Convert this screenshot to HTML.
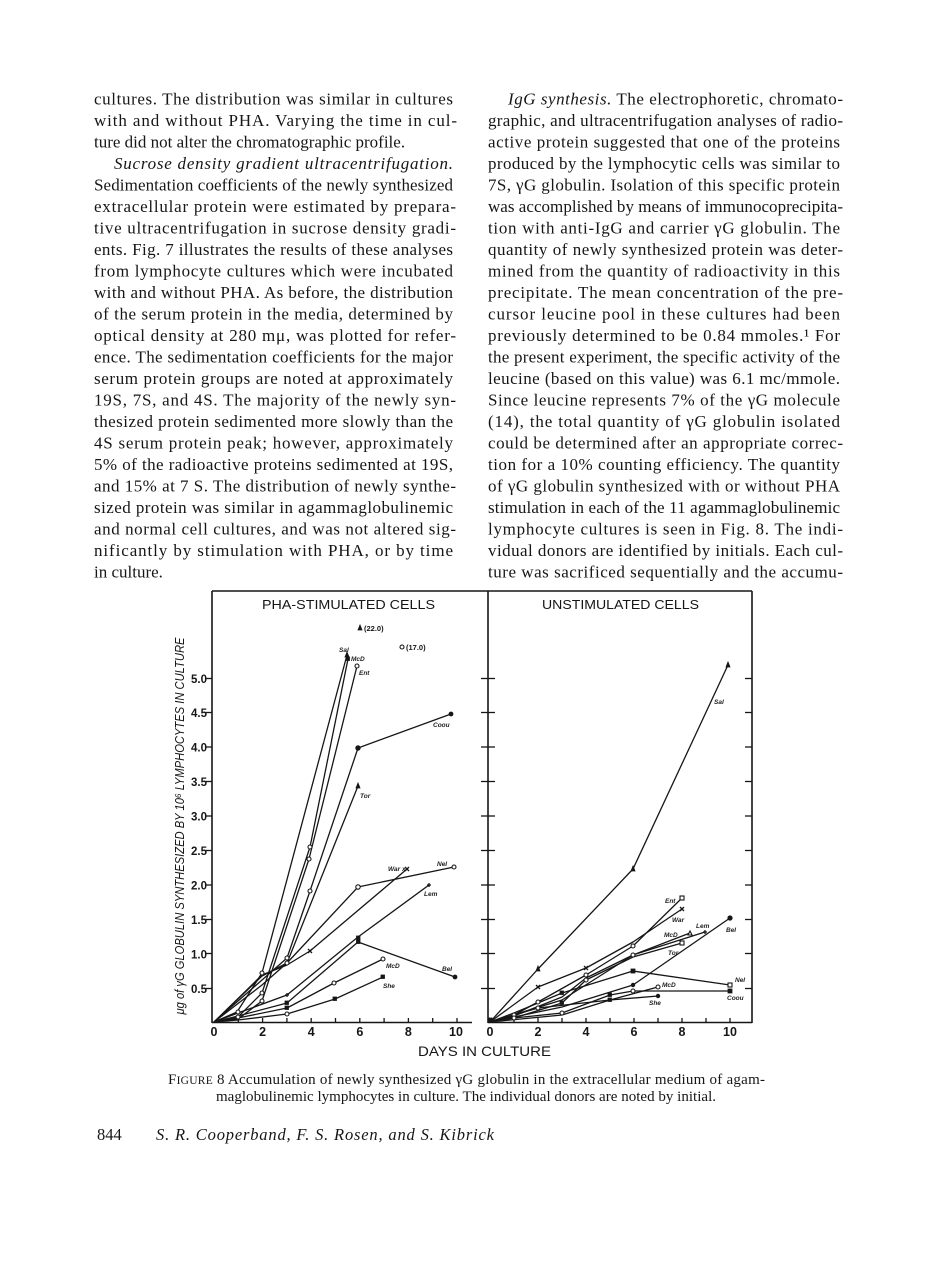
<!DOCTYPE html>
<html>
<head>
<meta charset="utf-8">
<style>
  html,body{margin:0;padding:0;background:#fff;}
  body{width:936px;height:1261px;position:relative;overflow:hidden;}
  svg{position:absolute;left:0;top:0;}
  .body{font-family:"Liberation Serif",serif;font-size:17px;fill:#161616;}
  .cap{font-family:"Liberation Serif",serif;font-size:15px;fill:#161616;}
  .foot{font-family:"Liberation Serif",serif;font-size:16.5px;fill:#161616;}
  .it{font-style:italic;}
  .sans{font-family:"Liberation Sans",sans-serif;fill:#161616;}
  .lab{font-family:"Liberation Sans",sans-serif;font-style:italic;font-weight:bold;font-size:6.5px;fill:#222;}
  .ln{fill:none;stroke:#161616;stroke-width:1.3;stroke-linejoin:round;}
  .fr{stroke:#161616;stroke-width:1.6;fill:none;}
  .tk{stroke:#161616;stroke-width:1.3;}
  .mo{fill:#fff;stroke:#161616;stroke-width:1.1;}
  .mf{fill:#161616;stroke:#161616;stroke-width:0.8;}
</style>
</head>
<body>
<svg width="936" height="1261" viewBox="0 0 936 1261" xmlns="http://www.w3.org/2000/svg">

<!-- LEFT COLUMN TEXT -->
<g class="body">
<text x="94" y="104.5" textLength="359">cultures. The distribution was similar in cultures</text>
<text x="94" y="126" textLength="363">with and without PHA. Varying the time in cul-</text>
<text x="94" y="147.5">ture did not alter the chromatographic profile.</text>
<text x="114" y="169" textLength="339" class="it">Sucrose density gradient ultracentrifugation.</text>
<text x="94" y="190.5" textLength="359">Sedimentation coefficients of the newly synthesized</text>
<text x="94" y="212" textLength="362">extracellular protein were estimated by prepara-</text>
<text x="94" y="233.5" textLength="362">tive ultracentrifugation in sucrose density gradi-</text>
<text x="94" y="255" textLength="359">ents. Fig. 7 illustrates the results of these analyses</text>
<text x="94" y="276.5" textLength="359">from lymphocyte cultures which were incubated</text>
<text x="94" y="298" textLength="359">with and without PHA. As before, the distribution</text>
<text x="94" y="319.5" textLength="359">of the serum protein in the media, determined by</text>
<text x="94" y="341" textLength="362">optical density at 280 mμ, was plotted for refer-</text>
<text x="94" y="362.5" textLength="359">ence. The sedimentation coefficients for the major</text>
<text x="94" y="384" textLength="359">serum protein groups are noted at approximately</text>
<text x="94" y="405.5" textLength="362">19S, 7S, and 4S. The majority of the newly syn-</text>
<text x="94" y="427" textLength="359">thesized protein sedimented more slowly than the</text>
<text x="94" y="448.5" textLength="359">4S serum protein peak; however, approximately</text>
<text x="94" y="470" textLength="359">5% of the radioactive proteins sedimented at 19S,</text>
<text x="94" y="491.5" textLength="362">and 15% at 7 S. The distribution of newly synthe-</text>
<text x="94" y="513" textLength="359">sized protein was similar in agammaglobulinemic</text>
<text x="94" y="534.5" textLength="362">and normal cell cultures, and was not altered sig-</text>
<text x="94" y="556" textLength="359">nificantly by stimulation with PHA, or by time</text>
<text x="94" y="577.5">in culture.</text>
</g>

<!-- RIGHT COLUMN TEXT -->
<g class="body">
<text x="508" y="104.5" textLength="335"><tspan class="it">IgG synthesis.</tspan>  The electrophoretic, chromato-</text>
<text x="488" y="126" textLength="355">graphic, and ultracentrifugation analyses of radio-</text>
<text x="488" y="147.5" textLength="352">active protein suggested that one of the proteins</text>
<text x="488" y="169" textLength="352">produced by the lymphocytic cells was similar to</text>
<text x="488" y="190.5" textLength="352">7S, γG globulin. Isolation of this specific protein</text>
<text x="488" y="212" textLength="355">was accomplished by means of immunocoprecipita-</text>
<text x="488" y="233.5" textLength="352">tion with anti-IgG and carrier γG globulin. The</text>
<text x="488" y="255" textLength="355">quantity of newly synthesized protein was deter-</text>
<text x="488" y="276.5" textLength="352">mined from the quantity of radioactivity in this</text>
<text x="488" y="298" textLength="355">precipitate. The mean concentration of the pre-</text>
<text x="488" y="319.5" textLength="352">cursor leucine pool in these cultures had been</text>
<text x="488" y="341" textLength="352">previously determined to be 0.84 mmoles.¹ For</text>
<text x="488" y="362.5" textLength="352">the present experiment, the specific activity of the</text>
<text x="488" y="384" textLength="352">leucine (based on this value) was 6.1 mc/mmole.</text>
<text x="488" y="405.5" textLength="352">Since leucine represents 7% of the γG molecule</text>
<text x="488" y="427" textLength="352">(14), the total quantity of γG globulin isolated</text>
<text x="488" y="448.5" textLength="355">could be determined after an appropriate correc-</text>
<text x="488" y="470" textLength="352">tion for a 10% counting efficiency. The quantity</text>
<text x="488" y="491.5" textLength="352">of γG globulin synthesized with or without PHA</text>
<text x="488" y="513" textLength="352">stimulation in each of the 11 agammaglobulinemic</text>
<text x="488" y="534.5" textLength="355">lymphocyte cultures is seen in Fig. 8. The indi-</text>
<text x="488" y="556" textLength="355">vidual donors are identified by initials. Each cul-</text>
<text x="488" y="577.5" textLength="355">ture was sacrificed sequentially and the accumu-</text>
</g>

<!-- FIGURE FRAME -->
<g class="fr">
  <line x1="212" y1="591" x2="752" y2="591"/>
  <line x1="212" y1="591" x2="212" y2="1023"/>
  <line x1="488" y1="591" x2="488" y2="1023"/>
  <line x1="752" y1="591" x2="752" y2="1023"/>
  <line x1="212" y1="1022.5" x2="472" y2="1022.5"/>
  <line x1="488" y1="1022.5" x2="752" y2="1022.5"/>
</g>

<!-- Y ticks -->
<g class="tk">
  <line x1="206" y1="988.5" x2="212" y2="988.5"/><line x1="206" y1="953.5" x2="212" y2="953.5"/>
  <line x1="206" y1="919.5" x2="212" y2="919.5"/><line x1="206" y1="885" x2="212" y2="885"/>
  <line x1="206" y1="850.5" x2="212" y2="850.5"/><line x1="206" y1="816" x2="212" y2="816"/>
  <line x1="206" y1="781.5" x2="212" y2="781.5"/><line x1="206" y1="747" x2="212" y2="747"/>
  <line x1="206" y1="712.5" x2="212" y2="712.5"/><line x1="206" y1="678.5" x2="212" y2="678.5"/>
  <line x1="481" y1="988.5" x2="488" y2="988.5"/><line x1="481" y1="953.5" x2="488" y2="953.5"/>
  <line x1="481" y1="919.5" x2="488" y2="919.5"/><line x1="481" y1="885" x2="488" y2="885"/>
  <line x1="481" y1="850.5" x2="488" y2="850.5"/><line x1="481" y1="816" x2="488" y2="816"/>
  <line x1="481" y1="781.5" x2="488" y2="781.5"/><line x1="481" y1="747" x2="488" y2="747"/>
  <line x1="481" y1="712.5" x2="488" y2="712.5"/><line x1="481" y1="678.5" x2="488" y2="678.5"/>
  <line x1="488" y1="988.5" x2="495" y2="988.5"/><line x1="488" y1="953.5" x2="495" y2="953.5"/>
  <line x1="488" y1="919.5" x2="495" y2="919.5"/><line x1="488" y1="885" x2="495" y2="885"/>
  <line x1="488" y1="850.5" x2="495" y2="850.5"/><line x1="488" y1="816" x2="495" y2="816"/>
  <line x1="488" y1="781.5" x2="495" y2="781.5"/><line x1="488" y1="747" x2="495" y2="747"/>
  <line x1="488" y1="712.5" x2="495" y2="712.5"/><line x1="488" y1="678.5" x2="495" y2="678.5"/>
  <line x1="745" y1="988.5" x2="752" y2="988.5"/><line x1="745" y1="953.5" x2="752" y2="953.5"/>
  <line x1="745" y1="919.5" x2="752" y2="919.5"/><line x1="745" y1="885" x2="752" y2="885"/>
  <line x1="745" y1="850.5" x2="752" y2="850.5"/><line x1="745" y1="816" x2="752" y2="816"/>
  <line x1="745" y1="781.5" x2="752" y2="781.5"/><line x1="745" y1="747" x2="752" y2="747"/>
  <line x1="745" y1="712.5" x2="752" y2="712.5"/><line x1="745" y1="678.5" x2="752" y2="678.5"/>
  <line x1="238.3" y1="1018" x2="238.3" y2="1022"/><line x1="262.6" y1="1018" x2="262.6" y2="1022"/>
  <line x1="286.9" y1="1018" x2="286.9" y2="1022"/><line x1="311.2" y1="1018" x2="311.2" y2="1022"/>
  <line x1="335.5" y1="1018" x2="335.5" y2="1022"/><line x1="359.8" y1="1018" x2="359.8" y2="1022"/>
  <line x1="384.1" y1="1018" x2="384.1" y2="1022"/><line x1="408.4" y1="1018" x2="408.4" y2="1022"/>
  <line x1="432.7" y1="1018" x2="432.7" y2="1022"/><line x1="457" y1="1018" x2="457" y2="1022"/>
  <line x1="514" y1="1018" x2="514" y2="1022"/><line x1="538" y1="1018" x2="538" y2="1022"/>
  <line x1="562" y1="1018" x2="562" y2="1022"/><line x1="586" y1="1018" x2="586" y2="1022"/>
  <line x1="610" y1="1018" x2="610" y2="1022"/><line x1="634" y1="1018" x2="634" y2="1022"/>
  <line x1="658" y1="1018" x2="658" y2="1022"/><line x1="682" y1="1018" x2="682" y2="1022"/>
  <line x1="706" y1="1018" x2="706" y2="1022"/><line x1="730" y1="1018" x2="730" y2="1022"/>
</g>

<!-- Panel titles -->
<text class="sans" x="262" y="609" font-size="13" textLength="173" lengthAdjust="spacingAndGlyphs">PHA-STIMULATED CELLS</text>
<text class="sans" x="542" y="609" font-size="13" textLength="157" lengthAdjust="spacingAndGlyphs">UNSTIMULATED CELLS</text>

<!-- Y tick labels -->
<g class="sans" font-size="11.5" text-anchor="end" font-weight="bold">
  <text x="207" y="683">5.0</text>
  <text x="207" y="717">4.5</text>
  <text x="207" y="751.5">4.0</text>
  <text x="207" y="786">3.5</text>
  <text x="207" y="820.5">3.0</text>
  <text x="207" y="855">2.5</text>
  <text x="207" y="889.5">2.0</text>
  <text x="207" y="924">1.5</text>
  <text x="207" y="958.5">1.0</text>
  <text x="207" y="993">0.5</text>
</g>

<!-- X tick labels -->
<g class="sans" font-size="12.5" text-anchor="middle" font-weight="bold">
  <text x="214" y="1036">0</text><text x="262.6" y="1036">2</text><text x="311.2" y="1036">4</text>
  <text x="359.8" y="1036">6</text><text x="408.4" y="1036">8</text><text x="456" y="1036">10</text>
  <text x="490" y="1036">0</text><text x="538" y="1036">2</text><text x="586" y="1036">4</text>
  <text x="634" y="1036">6</text><text x="682" y="1036">8</text><text x="730" y="1036">10</text>
</g>

<!-- Axis titles -->
<text class="sans" x="418" y="1056" font-size="14" textLength="133" lengthAdjust="spacingAndGlyphs">DAYS  IN  CULTURE</text>
<text class="sans" font-style="italic" font-size="12.5" text-anchor="middle" x="0" y="0" transform="translate(184,826) rotate(-90)" textLength="377" lengthAdjust="spacingAndGlyphs">μg of γG  GLOBULIN SYNTHESIZED BY 10⁶ LYMPHOCYTES IN CULTURE</text>

<!-- LEFT PANEL SERIES -->
<g class="ln">
  <path d="M214,1022 L237,1012 L262,973 L347,655"/>
  <path d="M214,1022 L238,1017 L262,993 L310,847 L348,659"/>
  <path d="M214,1022 L238,1019 L262,1001 L309,859 L357,666"/>
  <path d="M214,1022 L262,980 L287,958 L310,891 L358,748 L451,714"/>
  <path d="M214,1022 L262,985 L287,963 L358,786"/>
  <path d="M214,1022 L262,976 L287,963 L358,887 L454,867"/>
  <path d="M214,1022 L262,975 L287,965 L310,951 L407,869"/>
  <path d="M214,1022 L238,1013 L287,995 L358,937 L429,885"/>
  <path d="M214,1022 L238,1016 L287,1003 L358,942 L455,977"/>
  <path d="M214,1022 L238,1018 L287,1008 L334,983 L383,959"/>
  <path d="M214,1022 L238,1020 L287,1014 L335,999 L383,977"/>
</g>
<g>
  <polygon class="mf" points="347,652 345,657 349,657"/>
  <rect class="mf" x="346" y="657" width="3.5" height="3.5"/>
  <circle class="mo" cx="357" cy="666" r="2"/>
  <circle class="mf" cx="358" cy="748" r="2.3"/>
  <circle class="mf" cx="451" cy="714" r="2"/>
  <polygon class="mf" points="358,783 356,788 360,788"/>
  <circle class="mo" cx="358" cy="887" r="2.2"/>
  <circle class="mo" cx="454" cy="867" r="2"/>
  <circle class="mo" cx="310" cy="847" r="2"/>
  <circle class="mo" cx="309" cy="859" r="2"/>
  <circle class="mo" cx="310" cy="891" r="2"/>
  <circle class="mo" cx="262" cy="973" r="2"/>
  <circle class="mo" cx="262" cy="993" r="2"/>
  <circle class="mo" cx="262" cy="1001" r="2"/>
  <circle class="mo" cx="287" cy="958" r="2"/>
  <circle class="mo" cx="287" cy="963" r="2"/>
  <rect class="mf" x="285" y="1001" width="3.5" height="3.5"/>
  <rect class="mf" x="285" y="1006" width="3.5" height="3.5"/>
  <circle class="mo" cx="287" cy="1014" r="2"/>
  <circle class="mo" cx="238" cy="1012" r="2"/>
  <circle class="mo" cx="238" cy="1017" r="2"/>
  <rect class="mf" x="356.5" y="936" width="3.5" height="3.5"/>
  <rect class="mf" x="356.5" y="940" width="3.5" height="3.5"/>
  <circle class="mf" cx="455" cy="977" r="2"/>
  <circle class="mo" cx="334" cy="983" r="2"/>
  <circle class="mo" cx="383" cy="959" r="2"/>
  <rect class="mf" x="333" y="997" width="3.5" height="3.5"/>
  <rect class="mf" x="381" y="975" width="3.5" height="3.5"/>
  <path class="tk" d="M308,949 l4,4 M312,949 l-4,4 M405,867 l4,4 M409,867 l-4,4" stroke-width="1"/>
  <path class="tk" d="M285,995 h4 M287,993 v4 M427,885 h4 M429,883 v4" stroke-width="1"/>
  <polygon class="mf" points="360,625 358,630 362,630"/>
  <circle class="mo" cx="402" cy="647" r="2"/>
</g>
<text class="sans" x="364" y="631" font-size="7.5" font-weight="bold">(22.0)</text>
<text class="sans" x="406" y="650" font-size="7.5" font-weight="bold">(17.0)</text>
<text class="lab" x="339" y="652">Sal</text>
<text class="lab" x="351" y="661">McD</text>
<text class="lab" x="359" y="675">Ent</text>
<text class="lab" x="433" y="727">Coou</text>
<text class="lab" x="360" y="798">Tor</text>
<text class="lab" x="388" y="871">War  x</text>
<text class="lab" x="437" y="866">Nel</text>
<text class="lab" x="424" y="896">Lem</text>
<text class="lab" x="442" y="971">Bel</text>
<text class="lab" x="386" y="968">McD</text>
<text class="lab" x="383" y="988">She</text>

<!-- RIGHT PANEL SERIES -->
<g class="ln">
  <path d="M490,1022 L538,969 L633,869 L728,665"/>
  <path d="M490,1022 L514,1015 L538,1002 L586,975 L633,946 L682,898"/>
  <path d="M490,1022 L538,987 L586,968 L633,942 L682,909"/>
  <path d="M490,1022 L514,1016 L562,997 L586,978 L633,955 L690,933"/>
  <path d="M490,1022 L514,1018 L562,1003 L586,980 L633,957 L682,943"/>
  <path d="M490,1022 L562,1000 L633,955 L705,932"/>
  <path d="M490,1022 L562,1007 L633,985 L730,918"/>
  <path d="M490,1022 L514,1013 L562,993 L633,971 L730,985"/>
  <path d="M490,1022 L514,1018 L562,1013 L610,995 L633,991 L730,991"/>
  <path d="M490,1022 L538,1008 L610,1000 L658,987"/>
  <path d="M490,1022 L562,1015 L610,1000 L658,996"/>
</g>
<g>
  <polygon class="mf" points="728,662 726,667 730,667"/>
  <polygon class="mf" points="633,866 631,871 635,871"/>
  <polygon class="mf" points="538,966 536,971 540,971"/>
  <rect class="mo" x="680" y="896" width="4" height="4"/>
  <path class="tk" d="M680,907 l4,4 M684,907 l-4,4 M536,985 l4,4 M540,985 l-4,4 M584,966 l4,4 M588,966 l-4,4" stroke-width="1"/>
  <polygon class="mo" points="690,931 688,935 692,935"/>
  <rect class="mo" x="680" y="941" width="4" height="4"/>
  <path class="tk" d="M703,932 h4 M705,930 v4" stroke-width="1"/>
  <circle class="mf" cx="730" cy="918" r="2.2"/>
  <rect class="mo" x="728" y="983" width="4" height="4"/>
  <rect class="mf" x="728" y="989" width="4" height="4"/>
  <circle class="mo" cx="633" cy="946" r="2"/>
  <circle class="mo" cx="633" cy="955" r="2"/>
  <rect class="mf" x="631" y="969" width="4" height="4"/>
  <circle class="mf" cx="633" cy="985" r="1.8"/>
  <circle class="mo" cx="633" cy="991" r="2"/>
  <circle class="mo" cx="658" cy="987" r="2"/>
  <circle class="mf" cx="658" cy="996" r="1.8"/>
  <circle class="mo" cx="586" cy="975" r="2"/>
  <circle class="mo" cx="586" cy="980" r="2"/>
  <circle class="mo" cx="538" cy="1002" r="2"/>
  <circle class="mo" cx="538" cy="1008" r="2"/>
  <rect class="mf" x="560" y="991" width="3.5" height="3.5"/>
  <rect class="mf" x="560" y="1001" width="3.5" height="3.5"/>
  <circle class="mo" cx="562" cy="1013" r="2"/>
  <rect class="mf" x="608" y="993" width="3.5" height="3.5"/>
  <rect class="mf" x="608" y="998" width="3.5" height="3.5"/>
  <circle class="mo" cx="514" cy="1015" r="2"/>
  <circle class="mo" cx="514" cy="1018" r="2"/>
  <rect class="mf" x="488" y="1018" width="4" height="4"/>
</g>
<text class="lab" x="714" y="704">Sal</text>
<text class="lab" x="665" y="903">Ent</text>
<text class="lab" x="672" y="922">War</text>
<text class="lab" x="664" y="937">McD</text>
<text class="lab" x="696" y="928">Lem</text>
<text class="lab" x="726" y="932">Bel</text>
<text class="lab" x="668" y="955">Tor</text>
<text class="lab" x="735" y="982">Nel</text>
<text class="lab" x="727" y="1000">Coou</text>
<text class="lab" x="662" y="987">McD</text>
<text class="lab" x="649" y="1005">She</text>

<!-- Caption -->
<text class="cap" x="168" y="1084" textLength="597">F<tspan font-size="11.5">IGURE</tspan> 8   Accumulation of newly synthesized γG globulin in the extracellular medium of agam-</text>
<text class="cap" x="216" y="1101" textLength="500">maglobulinemic lymphocytes in culture. The individual donors are noted by initial.</text>

<!-- Footer -->
<text class="foot" x="97" y="1140">844</text>
<text class="foot it" x="156" y="1140" textLength="338">S. R. Cooperband, F. S. Rosen, and S. Kibrick</text>
</svg>
</body>
</html>
